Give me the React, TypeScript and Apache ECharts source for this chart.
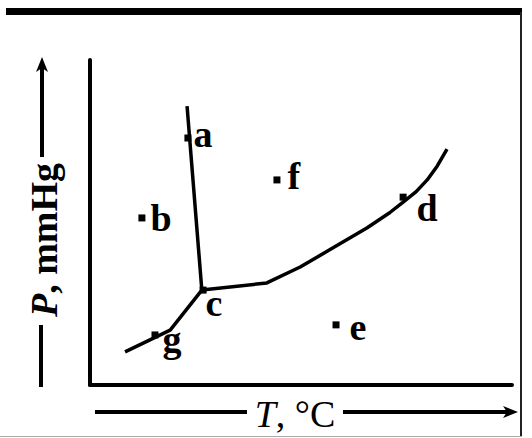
import React, { useEffect, useRef } from "react";
import * as echarts from "echarts";

// Phase-diagram curves (x: T, y: P, arbitrary units 0..100)
const fusionCurve: [number, number][] = [
  [23.0, 85.8],
  [26.5, 29.2],
];
const sublimationCurve: [number, number][] = [
  [26.5, 29.2],
  [19.0, 16.9],
  [8.3, 10.2],
];
const vaporizationCurve: [number, number][] = [
  [26.5, 29.2],
  [41.9, 31.4],
  [49.8, 36.3],
  [57.6, 42.2],
  [65.6, 48.3],
  [71.0, 53.0],
  [74.2, 56.3],
  [77.3, 59.5],
  [79.9, 63.1],
  [82.3, 67.4],
  [84.6, 72.6],
];
const pointNames = ["a", "b", "c", "d", "e", "f", "g"];
const pointX = [23.2, 12.3, 26.8, 74.2, 58.3, 44.3, 15.4];
const pointY = [76.0, 51.4, 29.2, 57.8, 18.5, 63.1, 15.4];
const labelOffsets: [number, number][] = [
  [2, -4],
  [5, 0],
  [-1, 13],
  [10, 11],
  [10, 2],
  [7, -4],
  [4, 4],
];

export default function App() {
  const ref = useRef<HTMLDivElement>(null);
  useEffect(() => {
    if (!ref.current) return;
    const chart = echarts.init(ref.current, undefined, { renderer: "svg" });
    const lineStyle = { color: "#000", width: 3.5, opacity: 1 };
    const labelFont = {
      fontFamily: "Liberation Serif",
      fontWeight: "bold" as const,
      fontSize: 38,
      color: "#000",
      opacity: 1,
    };
    chart.setOption({
      animation: false,
      backgroundColor: "#fff",
      grid: { left: 90, right: 20, top: 60, bottom: 53 },
      xAxis: {
        type: "value",
        min: 0,
        max: 100,
        axisLine: { show: true, lineStyle: { color: "#000", width: 4, cap: "round" } },
        axisTick: { show: false },
        axisLabel: { show: false },
        splitLine: { show: false },
      },
      yAxis: {
        type: "value",
        min: 0,
        max: 100,
        axisLine: { show: true, lineStyle: { color: "#000", width: 4, cap: "round" } },
        axisTick: { show: false },
        axisLabel: { show: false },
        splitLine: { show: false },
      },
      series: [
        { type: "line", data: fusionCurve, symbol: "none", lineStyle, silent: true },
        { type: "line", data: sublimationCurve, symbol: "none", lineStyle, silent: true },
        { type: "line", data: vaporizationCurve, symbol: "none", lineStyle, silent: true },
        {
          type: "scatter",
          symbol: "rect",
          symbolSize: 7,
          itemStyle: { color: "#000", opacity: 1 },
          data: pointNames.map((n, i) => ({
            name: n,
            value: [pointX[i], pointY[i]],
            label: {
              show: true,
              position: "right",
              distance: 0,
              offset: labelOffsets[i],
              formatter: n,
              ...labelFont,
            },
          })),
        },
      ],
      graphic: [
        // frame
        { type: "rect", shape: { x: 6, y: 8, width: 516, height: 7 }, style: { fill: "#000" } },
        { type: "rect", shape: { x: 520, y: 12, width: 2, height: 425 }, style: { fill: "#222" } },
        { type: "rect", shape: { x: 0, y: 436, width: 522, height: 1 }, style: { fill: "#aaa" } },
        // y axis label arrow
        { type: "line", shape: { x1: 42, y1: 66, x2: 42, y2: 157 }, style: { stroke: "#000", lineWidth: 4 } },
        { type: "polygon", shape: { points: [[42, 57], [36, 72], [42, 68], [48, 72]] }, style: { fill: "#000" } },
        { type: "line", shape: { x1: 41, y1: 325, x2: 41, y2: 387 }, style: { stroke: "#000", lineWidth: 4 } },
        {
          type: "text",
          x: 44,
          y: 240,
          rotation: Math.PI / 2,
          style: {
            text: "{i|P}, mmHg",
            x: 0,
            y: 0,
            align: "center",
            verticalAlign: "middle",
            fontFamily: "Liberation Serif",
            fontWeight: "bold",
            fontSize: 38,
            fill: "#000",
            rich: { i: { fontStyle: "italic", fontFamily: "Liberation Serif", fontWeight: "bold", fontSize: 38 } },
          },
        },
        // x axis label arrow
        { type: "line", shape: { x1: 95, y1: 412, x2: 247, y2: 412 }, style: { stroke: "#000", lineWidth: 4 } },
        { type: "line", shape: { x1: 343, y1: 412, x2: 508, y2: 412 }, style: { stroke: "#000", lineWidth: 4 } },
        { type: "polygon", shape: { points: [[518, 412], [503, 406], [507, 412], [503, 418]] }, style: { fill: "#000" } },
        {
          type: "text",
          x: 295,
          y: 414,
          style: {
            text: "{i|T}, °C",
            x: 0,
            y: 0,
            align: "center",
            verticalAlign: "middle",
            fontFamily: "Liberation Serif",
            fontSize: 38,
            fill: "#000",
            rich: { i: { fontStyle: "italic", fontFamily: "Liberation Serif", fontSize: 38 } },
          },
        },
      ],
    });
    return () => chart.dispose();
  }, []);
  return (
    <div
      ref={ref}
      style={{ position: "fixed", left: 0, top: 0, width: 532, height: 438 }}
    />
  );
}
